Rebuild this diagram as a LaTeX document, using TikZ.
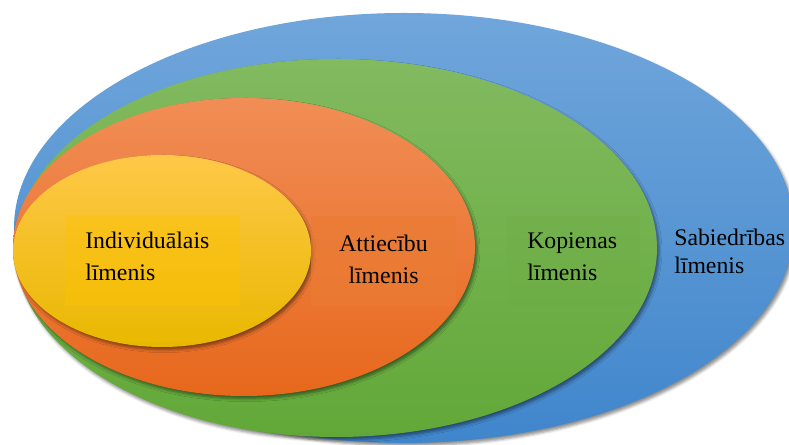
\documentclass[tikz,border=0pt]{standalone}
\usepackage{fontspec}
\setmainfont{Liberation Serif}
\usetikzlibrary{positioning, shadows.blur}
\definecolor{socblueT}{RGB}{112, 166, 219}
\definecolor{socblueB}{RGB}{64, 134, 204}
\definecolor{comgreenT}{RGB}{130, 186, 96}
\definecolor{comgreenB}{RGB}{98, 168, 56}
\definecolor{relorangeT}{RGB}{241, 141, 86}
\definecolor{relorangeB}{RGB}{231, 104, 28}
\definecolor{indgoldT}{RGB}{255, 200, 72}
\definecolor{indgoldB}{RGB}{232, 184, 0}
\definecolor{indgold}{RGB}{255, 194, 0}
\definecolor{relorange}{RGB}{234, 124, 52}
\definecolor{comgreen}{RGB}{112, 173, 71}

\begin{document}
\begin{tikzpicture}[
        x=0.025cm, y=0.025cm,
        level/.style={blur shadow={shadow xshift=1.5pt, shadow yshift=-2pt,
                      shadow blur radius=2pt, shadow opacity=45}},
        lvltext/.style={font=\fontsize{16.9}{22.6}\selectfont, inner sep=0pt, text=black},
        lvlbox/.style={minimum height=2.25cm, inner sep=0pt, fill opacity=0.4}
      ]
        \useasboundingbox (0,0) rectangle (789,445);

        % nested levels, outermost first
        \path[level, top color=socblueT, bottom color=socblueB]
          (404,217) ellipse [x radius=390, y radius=215];
        \path[level, top color=comgreenT, bottom color=comgreenB]
          (336,197) ellipse [x radius=321, y radius=189];
        \path[level, top color=relorangeT, bottom color=relorangeB]
          (244,198) ellipse [x radius=231, y radius=149];
        \path[level, top color=indgoldT, bottom color=indgoldB]
          (162,194) ellipse [x radius=149, y radius=96];

        % flat boxes behind the labels
        \node[lvlbox, fill=indgold, minimum width=4.375cm]   (indbox) at (152.5,184.5) {};
        \node[lvlbox, fill=relorange, minimum width=3.625cm, fill opacity=0.6] (relbox) at (383.5,184) {};
        \node[lvlbox, fill=comgreen, minimum width=3.325cm]  (combox) at (573.5,184) {};

        \node[lvltext, align=left, anchor=north west]   (indtxt) at (85,213.5)  {Individuālais\\līmenis};
        \node[lvltext, align=center, anchor=north]      (reltxt) at (383.5,210.5) {Attiecību\\līmenis};
        \node[lvltext, align=left, anchor=north west]   (comtxt) at (527,212.5) {Kopienas\\līmenis};
        \node[lvltext, align=left, anchor=north west,
              font=\fontsize{16.9}{19.9}\selectfont]    (soctxt) at (674,216)   {Sabiedrības\\līmenis};
      \end{tikzpicture}
\end{document}
